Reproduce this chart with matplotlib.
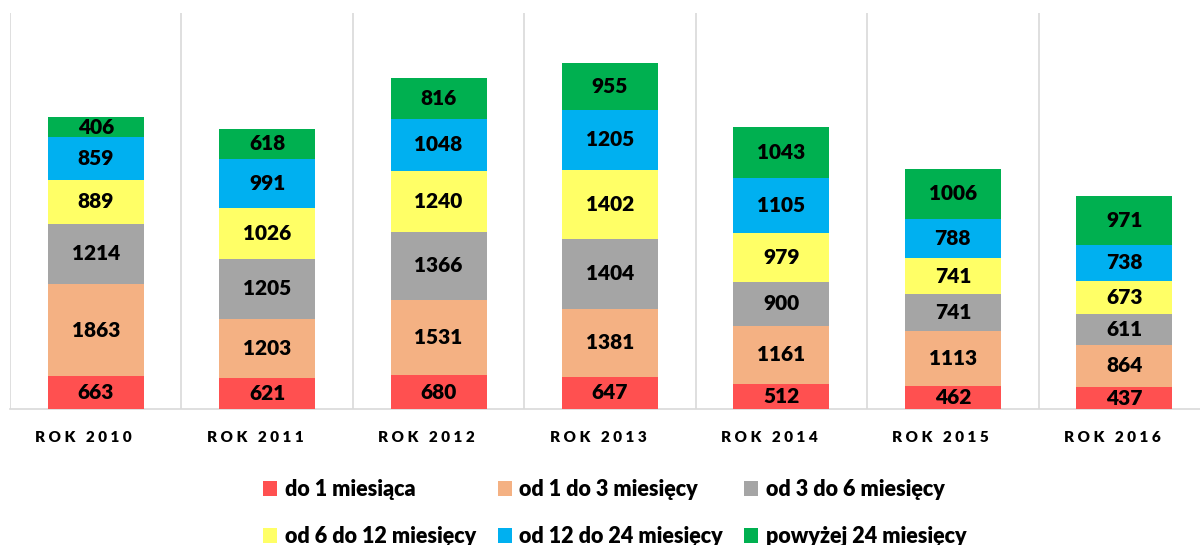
import matplotlib.pyplot as plt
import matplotlib.transforms as mtransforms
import numpy as np

## data
years = ["2010", "2011", "2012", "2013", "2014", "2015", "2016"]
do_1 = [663, 621, 680, 647, 512, 462, 437]
od_1_3 = [1863, 1203, 1531, 1381, 1161, 1113, 864]
od_3_6 = [1214, 1205, 1366, 1404, 900, 741, 611]
od_6_12 = [889, 1026, 1240, 1402, 979, 741, 673]
od_12_24 = [859, 991, 1048, 1205, 1105, 788, 738]
pow_24 = [406, 618, 816, 955, 1043, 1006, 971]

series = [do_1, od_1_3, od_3_6, od_6_12, od_12_24, pow_24]
names = ["do 1 miesiąca", "od 1 do 3 miesięcy", "od 3 do 6 miesięcy",
         "od 6 do 12 miesięcy", "od 12 do 24 miesięcy", "powyżej 24 miesięcy"]
colors = ["#FF5050", "#F4B183", "#A5A5A5", "#FFFF66", "#00B0F0", "#00B050"]

plt.rcParams['font.family'] = ['Lato', 'DejaVu Sans']

fig = plt.figure(figsize=(12, 5.45), dpi=100)
ax = fig.add_axes([10 / 1200, 136 / 545, 1200 / 1200, 396 / 545])

x = np.arange(len(years))
bottom = np.zeros(len(years))
handles = []
for vals, name, col in zip(series, names, colors):
    vals = np.array(vals)
    b = ax.bar(x, vals, 0.56, bottom=bottom, color=col, label=name, zorder=3)
    handles.append(b)
    for xi, yi, v in zip(x, bottom + vals / 2, vals):
        ax.text(xi, yi, str(v), ha="center", va="center",
                fontsize=15, fontweight="heavy", color="black", zorder=4)
    bottom = bottom + vals

ax.set_xlim(-0.5, 6.5)
ax.set_ylim(0, 8000)

## vertical lines between categories
for b in np.arange(-0.5, 7, 1):
    ax.axvline(b, color="#D9D9D9", lw=1.2, zorder=1)

for s in ["top", "right", "left"]:
    ax.spines[s].set_visible(False)
ax.spines["bottom"].set_color("#D9D9D9")
ax.spines["bottom"].set_linewidth(1.2)
ax.set_yticks([])
ax.set_xticks(x)
ax.set_xticklabels(["R O K   " + " ".join(y) for y in years],
                   fontsize=11, fontweight="heavy", color="black")
ax.tick_params(axis="x", length=0, pad=16)
## excel puts the labels a bit left of the bar centre
shift = mtransforms.ScaledTranslation(-12 / 100, 0, fig.dpi_scale_trans)
for lab in ax.get_xticklabels():
    lab.set_transform(lab.get_transform() + shift)

## legend order: matplotlib fills columns first
order = [0, 3, 1, 4, 2, 5]
leg = fig.legend([handles[i] for i in order], [names[i] for i in order],
                 ncol=3, loc="center", bbox_to_anchor=(0.5 + 15 / 1200, 1 - 513 / 545),
                 frameon=False, prop={"size": 15.5, "weight": "heavy"},
                 handlelength=0.65, handleheight=0.65, handletextpad=0.35,
                 columnspacing=1.0, labelspacing=1.2)

fig.savefig("out.png", dpi=100)
